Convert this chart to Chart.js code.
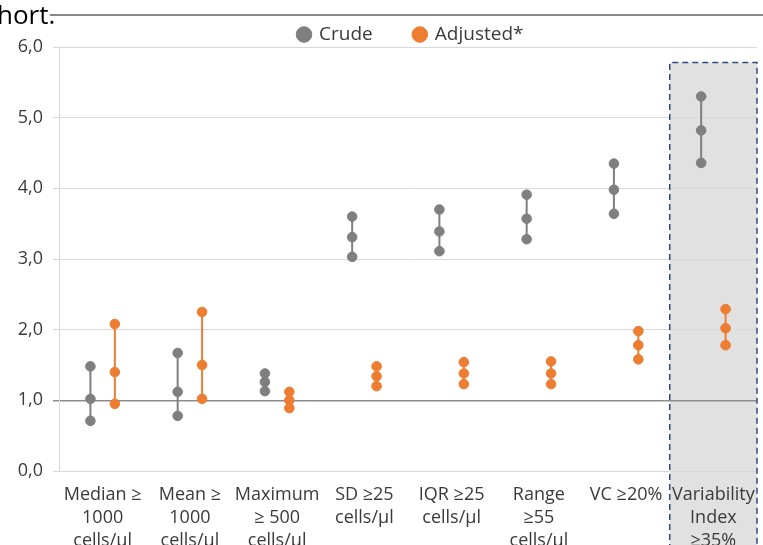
<!DOCTYPE html>
<html><head><meta charset="utf-8">
<script src="https://cdn.jsdelivr.net/npm/chart.js@4"></script>
<style>html,body{margin:0;padding:0;background:#fff;}#wrap{width:763px;height:545px;position:relative;}</style>
</head><body><div id="wrap"><canvas id="c" width="763" height="545"></canvas></div>
<script>
const categories = [
  ["Median ≥","1000","cells/µl"],
  ["Mean ≥","1000","cells/µl"],
  ["Maximum","≥ 500","cells/µl"],
  ["SD ≥25","cells/µl"],
  ["IQR ≥25","cells/µl"],
  ["Range","≥55","cells/µl"],
  ["VC ≥20%"],
  ["Variability","Index","≥35%"]
];
const seriesNames = ["Crude", "Adjusted*"];
const crudeLow  = [0.71, 0.78, 1.13, 3.03, 3.11, 3.28, 3.64, 4.36];
const crudeMid  = [1.02, 1.12, 1.26, 3.31, 3.39, 3.57, 3.98, 4.82];
const crudeHigh = [1.48, 1.67, 1.38, 3.60, 3.70, 3.91, 4.35, 5.30];
const adjLow  = [0.95, 1.02, 0.89, 1.20, 1.23, 1.23, 1.58, 1.78];
const adjMid  = [1.40, 1.50, 1.00, 1.34, 1.38, 1.38, 1.78, 2.02];
const adjHigh = [2.08, 2.25, 1.12, 1.48, 1.54, 1.55, 1.98, 2.29];
const yTicks = [0, 1, 2, 3, 4, 5, 6];
const highlightIndex = 7;
const highlightTop = 5.78;

const GRAY = '#7F7F7F', ORANGE = '#ED7D31';
const OFF = 0.14;
function pts(lo, mid, hi, off){
  const out = [];
  lo.forEach((v,i)=>{ out.push({x:i+off,y:lo[i]},{x:i+off,y:mid[i]},{x:i+off,y:hi[i]}); });
  return out;
}
const ranges = [
  {lo:crudeLow, hi:crudeHigh, off:-OFF, color:GRAY},
  {lo:adjLow, hi:adjHigh, off:OFF, color:ORANGE}
];

const fontFam = "'Open Sans', 'Noto Sans', sans-serif";
const TXT = '#3A3A3A';

const boxPlugin = {
  id:'box',
  afterLayout(chart){
    const lg = chart.legend, ca = chart.chartArea;
    if (!lg) return;
    const w = lg.right - lg.left;
    const c = (ca.left + ca.right)/2 + 3;
    lg.left = c - w/2; lg.right = c + w/2;
    lg.top += 7; lg.bottom += 7;
  },
  beforeDraw(chart){
    const {ctx, scales:{x,y}} = chart;
    ctx.save();
    ctx.fillStyle = '#000';
    ctx.font = "26px " + fontFam;
    ctx.textBaseline = 'alphabetic';
    ctx.fillText('hort.', -3, 24);
    ctx.strokeStyle = '#606060'; ctx.lineWidth = 1.5;
    ctx.beginPath(); ctx.moveTo(50, 15); ctx.lineTo(763, 15); ctx.stroke();
    const l = x.getPixelForValue(highlightIndex-0.5), r = x.getPixelForValue(highlightIndex+0.5);
    const t = y.getPixelForValue(highlightTop);
    ctx.fillStyle = '#E1E1E1';
    ctx.fillRect(l, t, r-l, chart.height - t + 5);
    ctx.restore();
  },
  afterDraw(chart){
    const {ctx, scales:{x,y}} = chart;
    const l = x.getPixelForValue(highlightIndex-0.5), r = x.getPixelForValue(highlightIndex+0.5);
    const t = y.getPixelForValue(highlightTop);
    ctx.save();
    ctx.strokeStyle = '#2F4A80'; ctx.lineWidth = 1.5; ctx.setLineDash([6,4]);
    ctx.beginPath();
    ctx.moveTo(l, chart.height+5); ctx.lineTo(l, t); ctx.lineTo(r, t); ctx.lineTo(r, chart.height+5);
    ctx.stroke();
    ctx.restore();
  },
  beforeDatasetsDraw(chart){
    const {ctx, scales:{x,y}} = chart;
    ctx.save(); ctx.lineWidth = 2;
    ranges.forEach(rg=>{
      ctx.strokeStyle = rg.color;
      rg.lo.forEach((v,i)=>{
        const px = x.getPixelForValue(i+rg.off);
        ctx.beginPath(); ctx.moveTo(px, y.getPixelForValue(rg.lo[i])); ctx.lineTo(px, y.getPixelForValue(rg.hi[i])); ctx.stroke();
      });
    });
    ctx.restore();
  }
};

Chart.defaults.font.family = fontFam;
new Chart(document.getElementById('c'), {
  type:'scatter',
  data:{datasets:[
    {label:seriesNames[0], data:pts(crudeLow,crudeMid,crudeHigh,-OFF), backgroundColor:GRAY, borderColor:GRAY, pointRadius:4.8, pointHoverRadius:4.8},
    {label:seriesNames[1], data:pts(adjLow,adjMid,adjHigh,OFF), backgroundColor:ORANGE, borderColor:ORANGE, pointRadius:4.8, pointHoverRadius:4.8}
  ]},
  options:{
    responsive:false, animation:false,
    layout:{padding:{top:6, right:6, left:0, bottom:0}},
    plugins:{
      legend:{display:true, position:'top', labels:{usePointStyle:true, pointStyle:'circle', boxWidth:11, boxHeight:11, padding:12, color:TXT, font:{size:19},
        generateLabels(chart){
          const items = Chart.defaults.plugins.legend.labels.generateLabels(chart);
          items.forEach((it,i)=>{ if (i < items.length-1) it.text = it.text + '      '; });
          return items;
        }}},
      tooltip:{enabled:false}
    },
    scales:{
      x:{type:'linear', min:-0.5, max:7.5,
        afterBuildTicks(s){ s.ticks = categories.map((c,i)=>({value:i})); },
        afterFit(s){ s.height = 74; s.paddingRight = 0; s.paddingLeft = 0; },
        grid:{display:false, drawTicks:false},
        border:{display:false},
        ticks:{autoSkip:false, maxRotation:0, minRotation:0, padding:12, color:TXT, font:{size:18, lineHeight:1.28},
          callback:(v)=>categories[v]}
      },
      y:{min:0, max:6,
        afterBuildTicks(s){ s.ticks = yTicks.map(v=>({value:v})); },
        afterFit(s){ s.width = 59; },
        grid:{color:(c)=> c.tick && c.tick.value===1 ? '#8C8C8C' : '#D9D9D9', lineWidth:(c)=> c.tick && c.tick.value===1 ? 1.5 : 1, tickLength:6},
        border:{display:true, color:'#D9D9D9'},
        ticks:{padding:10, color:TXT, font:{size:18}, callback:(v)=>v.toFixed(1).replace('.', ',')}
      }
    }
  },
  plugins:[boxPlugin]
});
</script></body></html>
